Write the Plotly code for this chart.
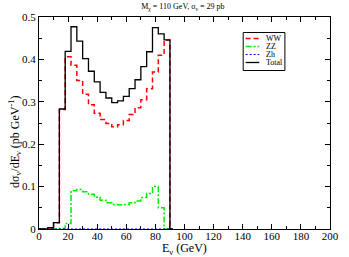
import plotly.graph_objects as go

# Bin centres (GeV), bin width 4 GeV
e_nu = [0, 4, 8, 12, 16, 20, 24, 28, 32, 36, 40, 44, 48, 52, 56, 60, 64, 68, 72, 76, 80, 84, 88, 92]
ww = [0, 0, 0.003, 0.015, 0.282, 0.406, 0.386, 0.350, 0.318, 0.293, 0.273, 0.258,
      0.249, 0.241, 0.246, 0.256, 0.270, 0.286, 0.305, 0.331, 0.370, 0.410, 0.445, 0]
zz = [0, 0, 0, 0, 0.001, 0.013, 0.090, 0.093, 0.088, 0.082, 0.075, 0.068,
      0.062, 0.058, 0.057, 0.058, 0.062, 0.066, 0.074, 0.084, 0.100, 0.050, 0, 0]
zh = [0, 0, 0, 0, 0, 0, 0, 0, 0, 0, 0, 0,
      0, 0, 0, 0, 0, 0, 0, 0, 0, 0, 0, 0]
total = [0, 0, 0.003, 0.015, 0.283, 0.419, 0.477, 0.443, 0.402, 0.372, 0.347, 0.322,
         0.309, 0.298, 0.302, 0.313, 0.331, 0.352, 0.383, 0.418, 0.475, 0.460, 0.446, 0]

x_ticks = [0, 20, 40, 60, 80, 100, 120, 140, 160, 180, 200]
y_ticks = [0, 0.1, 0.2, 0.3, 0.4, 0.5]

names = ["WW", "ZZ", "Zh", "Total"]
colors = ["#ff0000", "#00ee00", "#0000ff", "#000000"]
dashes = ["5px,3px", "6px,2px,2px,2px", "2px,2px", "solid"]
widths = [1.5, 1.5, 1.2, 1.3]
series = [ww, zz, zh, total]

FONT = "Liberation Serif, Times New Roman, serif"

fig = go.Figure()
for name, ys, c, d, w in zip(names, series, colors, dashes, widths):
    fig.add_trace(go.Scatter(x=e_nu, y=ys, mode="lines", name=name,
                             line=dict(color=c, dash=d, width=w, shape="hvh"),
                             showlegend=False, hoverinfo="skip"))

axis_common = dict(showline=True, linecolor="black", linewidth=1, mirror="ticks",
                   ticks="inside", ticklen=5, tickcolor="black", tickwidth=1,
                   showgrid=False, zeroline=False,
                   tickfont=dict(family=FONT, size=11, color="black"))

fig.update_xaxes(range=[0, 200], tickvals=x_ticks, ticklabelstandoff=-3,
                 minor=dict(ticks="inside", dtick=10, ticklen=3, tickcolor="black", showgrid=False),
                 layer="below traces", **axis_common)
fig.update_yaxes(range=[0, 0.5], tickvals=y_ticks,
                 minor=dict(ticks="inside", dtick=0.05, ticklen=3, tickcolor="black", showgrid=False),
                 **axis_common)

annotations = [
    dict(text="dσ<sub>ν</sub>/dE<sub>ν</sub> (pb GeV<sup>-1</sup>)", xref="paper", yref="paper",
         x=-0.083, y=0.41, textangle=-90, showarrow=False,
         font=dict(family=FONT, size=12, color="black"), xanchor="center", yanchor="middle"),
    dict(text="E<sub>ν</sub> (GeV)", xref="paper", yref="paper", x=0.5, y=-0.054,
         showarrow=False, font=dict(family=FONT, size=12, color="black"),
         xanchor="center", yanchor="top", borderpad=0),
]

# Legend drawn manually
shapes = [dict(type="rect", xref="paper", yref="paper", x0=0.7017, x1=0.845, y0=0.7476, y1=0.9269,
               line=dict(color="black", width=1), fillcolor="white", layer="above")]
leg_y = [0.8986, 0.8608, 0.8231, 0.7854]
for name, c, d, w, yy in zip(names, colors, dashes, widths, leg_y):
    shapes.append(dict(type="line", xref="paper", yref="paper", x0=0.71, x1=0.757, y0=yy, y1=yy,
                       line=dict(color=c, dash=d, width=w), layer="above"))
    annotations.append(dict(text=name, xref="paper", yref="paper", x=0.773, y=yy,
                            xanchor="left", yanchor="middle", showarrow=False,
                            font=dict(family=FONT, size=8, color="black")))

fig.update_layout(
    width=349, height=257,
    margin=dict(l=39, r=10, t=17, b=28),
    paper_bgcolor="white", plot_bgcolor="white",
    title=dict(text="M<sub>χ</sub> = 110 GeV, σ<sub>ν</sub> = 29 pb", x=0.524, xanchor="center",
               y=0.975, yanchor="middle", font=dict(family=FONT, size=8, color="black")),
    annotations=annotations, shapes=shapes, showlegend=False,
)

fig.write_html("out.html", config={"displayModeBar": False},
               post_script="document.body.style.margin='0';document.body.style.overflow='hidden';")
